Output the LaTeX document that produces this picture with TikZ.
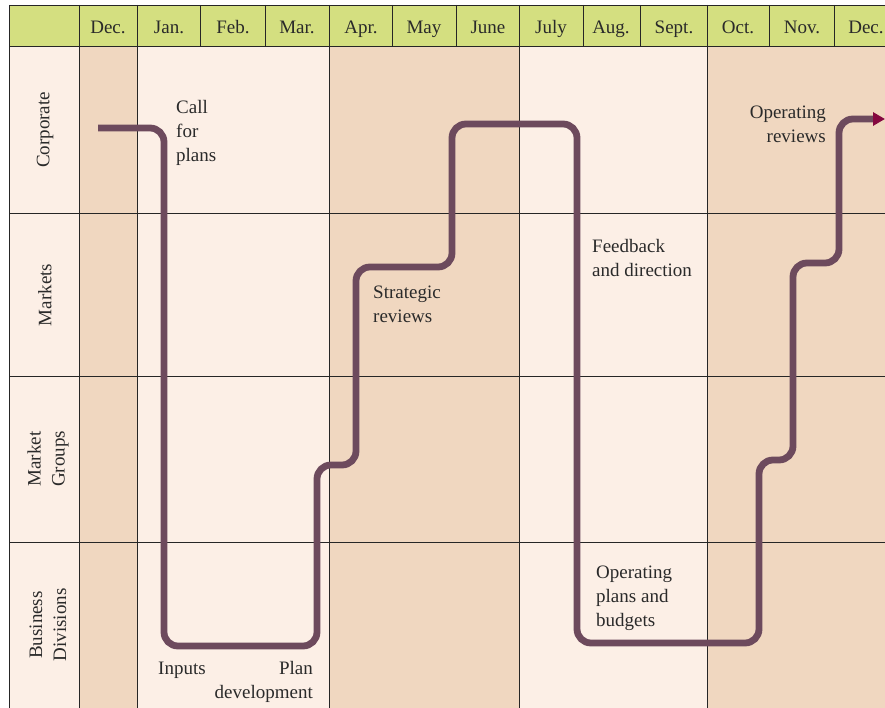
\documentclass[tikz,border=0pt]{standalone}
\usepackage{fontspec}
\setmainfont{Liberation Serif}
\usetikzlibrary{arrows.meta}
\definecolor{headgreen}{HTML}{D4DF80}
\definecolor{bandlight}{HTML}{FCEFE6}
\definecolor{banddark}{HTML}{F0D7C0}
\definecolor{flowcol}{HTML}{6D4A5D}
\definecolor{tipcol}{HTML}{85083F}
\definecolor{inkcol}{HTML}{2A2A2A}
\definecolor{rulecol}{HTML}{262626}
\tikzset{
  rule/.style={draw=rulecol, line width=0.9pt},
  lbl/.style={inner sep=0pt, text=inkcol, font=\fontsize{19}{24}\selectfont},
  leftlbl/.style={lbl, align=left, anchor=west},
  rightlbl/.style={lbl, align=right, anchor=east},
  rowlbl/.style={lbl, align=center, rotate=90},
  monthlbl/.style={lbl, anchor=base},
  flow/.style={draw=flowcol, line width=6.8pt, rounded corners=14pt,
    -{Triangle[length=12pt,width=13pt,color=tipcol]}}
}
\begin{document}
\begin{tikzpicture}[x=1pt,y=-1pt]
\useasboundingbox (0,0) rectangle (885,708);
\fill[white] (0,0) rectangle (885,708);
% body and quarter bands
\fill[bandlight] (9,46) rectangle (885,708);
\fill[banddark] (79,46) rectangle (137,708);
\fill[banddark] (329,46) rectangle (519,708);
\fill[banddark] (707,46) rectangle (885,708);
% header strip
\fill[headgreen] (9,5) rectangle (885,46);
\draw[rule] (9,5) -- (885,5);
\draw[rule] (9,46) -- (885,46);
\draw[rule] (9,5) -- (9,708);
\foreach \x in {79,137,200,265,329,392,456,519,583,640,707,769,834}
  \draw[rule] (\x,5) -- (\x,46);
% grid in the body
\foreach \x in {79,137,329,519,707}
  \draw[rule] (\x,46) -- (\x,708);
\foreach \y in {213,376,542}
  \draw[rule] (9,\y) -- (885,\y);
% month headings
\node[monthlbl] (m0) at (108,34) {Dec.};
\node[monthlbl] (m1) at (169,34) {Jan.};
\node[monthlbl] (m2) at (233,34) {Feb.};
\node[monthlbl] (m3) at (297,34) {Mar.};
\node[monthlbl] (m4) at (361,34) {Apr.};
\node[monthlbl] (m5) at (424,34) {May};
\node[monthlbl] (m6) at (488,34) {June};
\node[monthlbl] (m7) at (551,34) {July};
\node[monthlbl] (m8) at (611,34) {Aug.};
\node[monthlbl] (m9) at (674,34) {Sept.};
\node[monthlbl] (m10) at (738,34) {Oct.};
\node[monthlbl] (m11) at (802,34) {Nov.};
\node[monthlbl] (m12) at (866,34) {Dec.};
% row headings
\node[rowlbl] (r1) at (45,130) {Corporate};
\node[rowlbl] (r2) at (45,295) {Markets};
\node[rowlbl] (r3) at (48,459) {Market\\Groups};
\node[rowlbl] (r4) at (48,625) {Business\\Divisions};
% planning flow
\coordinate (start) at (98,128);
\coordinate (c1) at (164,128);
\coordinate (c2) at (164,646);
\coordinate (c3) at (317,646);
\coordinate (c4) at (317,465);
\coordinate (c5) at (356,465);
\coordinate (c6) at (356,267);
\coordinate (c7) at (452,267);
\coordinate (c8) at (452,124);
\coordinate (c9) at (577,124);
\coordinate (c10) at (577,643);
\coordinate (c11) at (759,643);
\coordinate (c12) at (759,460);
\coordinate (c13) at (793,460);
\coordinate (c14) at (793,263);
\coordinate (c15) at (839,263);
\coordinate (c16) at (839,119);
\coordinate (finish) at (885,119);
\draw[flow] (start) -- (c1) -- (c2) -- (c3) -- (c4) -- (c5) -- (c6) -- (c7)
  -- (c8) -- (c9) -- (c10) -- (c11) -- (c12) -- (c13) -- (c14) -- (c15)
  -- (c16) -- (finish);
% stage labels
\node[leftlbl] (t1) at (176,133) {Call\\for\\plans};
\node[leftlbl] (t2) at (158,670) {Inputs};
\node[rightlbl] (t3) at (313,682) {Plan\\development};
\node[leftlbl] (t4) at (373,304) {Strategic\\reviews};
\node[leftlbl] (t5) at (592,258) {Feedback\\and direction};
\node[leftlbl] (t6) at (596,598) {Operating\\plans and\\budgets};
\node[rightlbl] (t7) at (826,124) {Operating\\reviews};
\end{tikzpicture}
\end{document}
